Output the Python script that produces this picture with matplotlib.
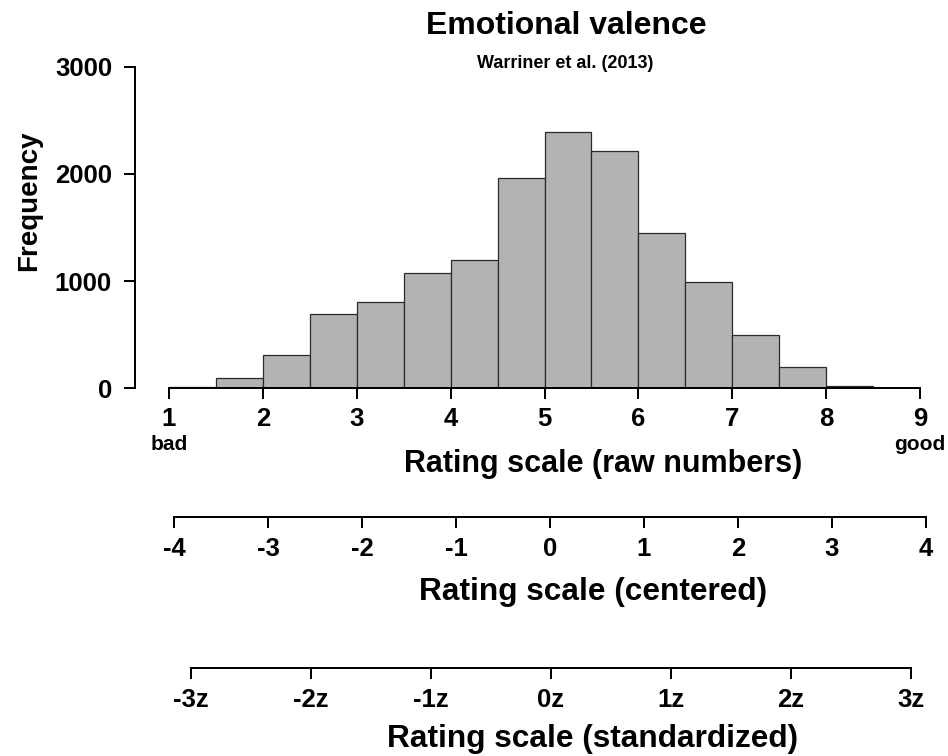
import matplotlib
matplotlib.use("Agg")
import matplotlib.pyplot as plt
import numpy as np

plt.rcParams['font.family'] = ['Liberation Sans', 'DejaVu Sans']
plt.rcParams['font.weight'] = 'bold'

# ---- data ----
bin_edges = [1.0, 1.5, 2.0, 2.5, 3.0, 3.5, 4.0, 4.5, 5.0, 5.5, 6.0, 6.5, 7.0, 7.5, 8.0, 8.5]
counts = [8, 93, 308, 693, 808, 1072, 1200, 1961, 2387, 2210, 1452, 992, 497, 196, 22, 3]
bin_width = 0.5
raw_ticks = [1, 2, 3, 4, 5, 6, 7, 8, 9]
freq_ticks = [0, 1000, 2000, 3000]
centered_ticks = [-4, -3, -2, -1, 0, 1, 2, 3, 4]
z_ticks = [-3, -2, -1, 0, 1, 2, 3]
z_labels = ["-3z", "-2z", "-1z", "0z", "1z", "2z", "3z"]

W, H = 948, 756
fig = plt.figure(figsize=(W / 100, H / 100), dpi=100)

def fx(x):
    return x / W

def fy(y):
    return 1 - y / H

PX = 72 / 100  # points per pixel
LW = 2.0 * PX
TICK_LEN = 11 * PX
TICK_FS = 18.5

# ---- main histogram axes ----
x0, x1 = 169, 920
y0, y3000 = 388.3, 66.7
ax = fig.add_axes([fx(x0), fy(y0), fx(x1) - fx(x0), fy(y3000) - fy(y0)])
ax.bar(bin_edges, counts, width=bin_width, align='edge',
       color='#b3b3b3', edgecolor='#2b2b2b', linewidth=0.9, zorder=2)
ax.set_xlim(1, 9)
ax.set_ylim(0, 3000)
ax.patch.set_alpha(0)
for s in ['top', 'right']:
    ax.spines[s].set_visible(False)
ax.spines['bottom'].set_bounds(1, 9)
ax.spines['left'].set_bounds(0, 3000)
ax.spines['left'].set_position(('outward', 34 * PX))
ax.spines['bottom'].set_linewidth(LW)
ax.spines['left'].set_linewidth(LW)
ax.spines['bottom'].set_zorder(3)
ax.set_xticks(raw_ticks)
ax.set_xticklabels([str(t) for t in raw_ticks])
ax.set_yticks(freq_ticks)
ax.set_yticklabels([str(t) for t in freq_ticks])
ax.tick_params(axis='both', length=TICK_LEN, width=LW, labelsize=TICK_FS)
ax.tick_params(axis='x', pad=8 * PX)
ax.tick_params(axis='y', pad=12 * PX)
for lab in ax.get_xticklabels() + ax.get_yticklabels():
    lab.set_fontweight('bold')

# ---- secondary scale axes ----
def scale_axis(left_px, right_px, line_y, lo, hi, ticks, labels):
    a = fig.add_axes([fx(left_px), fy(line_y), fx(right_px) - fx(left_px), 0.001])
    a.set_xlim(lo, hi)
    a.set_ylim(0, 1)
    a.patch.set_alpha(0)
    for s in ['top', 'right', 'left']:
        a.spines[s].set_visible(False)
    a.spines['bottom'].set_linewidth(LW)
    a.set_yticks([])
    a.set_xticks(ticks)
    a.set_xticklabels(labels)
    a.tick_params(axis='x', length=TICK_LEN, width=LW, labelsize=TICK_FS, pad=9 * PX)
    for lab in a.get_xticklabels():
        lab.set_fontweight('bold')
    return a

scale_axis(174, 926, 517.3, -4, 4, centered_ticks, [str(t) for t in centered_ticks])
scale_axis(191, 910.5, 668, -3, 3, z_ticks, z_labels)

# ---- texts ----
fig.text(fx(566), fy(34), "Emotional valence", ha='center', va='baseline',
         fontsize=23, fontweight='bold')
fig.text(fx(565), fy(68), "Warriner et al. (2013)", ha='center', va='baseline',
         fontsize=13, fontweight='bold')
fig.text(fx(29), fy(201), "Frequency", ha='center', va='center', rotation=90,
         fontsize=20, fontweight='bold')
fig.text(fx(169), fy(450), "bad", ha='center', va='baseline', fontsize=15, fontweight='bold')
fig.text(fx(920), fy(450), "good", ha='center', va='baseline', fontsize=15, fontweight='bold')
fig.text(fx(603), fy(472), "Rating scale (raw numbers)", ha='center', va='baseline',
         fontsize=22, fontweight='bold')
fig.text(fx(593), fy(600), "Rating scale (centered)", ha='center', va='baseline',
         fontsize=22.8, fontweight='bold')
fig.text(fx(593), fy(747), "Rating scale (standardized)", ha='center', va='baseline',
         fontsize=22.8, fontweight='bold')

fig.savefig("out.png", dpi=100)
